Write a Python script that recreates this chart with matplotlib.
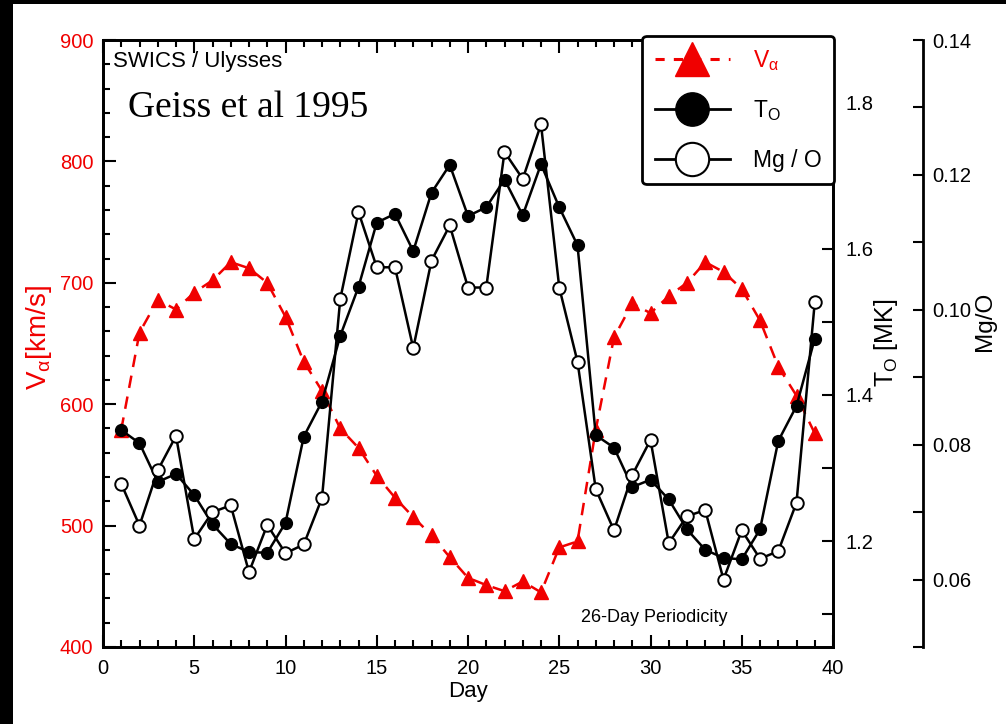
import numpy as np
import matplotlib
matplotlib.use("Agg")
import matplotlib.pyplot as plt
from matplotlib.lines import Line2D
from matplotlib.patches import Rectangle
from matplotlib.ticker import MultipleLocator, FormatStrFormatter

# ------------------------------------------------------------
# data read off the SWICS / Ulysses figure (Geiss et al 1995)
# ------------------------------------------------------------
days = list(range(1, 40))

v_alpha = [579, 659, 686, 678, 692, 702, 717, 712, 700, 672, 635, 611, 580,
           564, 541, 523, 507, 492, 474, 457, 451, 446, 454, 445, 482, 487,
           579, 655, 683, 675, 689, 700, 717, 709, 695, 669, 631, 607, 576]

t_oxygen = [1.352, 1.334, 1.281, 1.292, 1.263, 1.223, 1.196, 1.185, 1.184,
            1.225, 1.343, 1.391, 1.481, 1.548, 1.636, 1.648, 1.597, 1.677,
            1.715, 1.645, 1.657, 1.695, 1.646, 1.716, 1.657, 1.605, 1.345,
            1.328, 1.274, 1.284, 1.257, 1.216, 1.188, 1.177, 1.175, 1.216,
            1.337, 1.385, 1.477]

mg_o = [0.0742, 0.0680, 0.0762, 0.0813, 0.0660, 0.0700, 0.0710, 0.0611,
        0.0681, 0.0639, 0.0652, 0.0721, 0.1016, 0.1145, 0.1063, 0.1063,
        0.0943, 0.1073, 0.1125, 0.1033, 0.1033, 0.1234, 0.1194, 0.1275,
        0.1033, 0.0923, 0.0734, 0.0673, 0.0755, 0.0807, 0.0654, 0.0694,
        0.0703, 0.0600, 0.0673, 0.0631, 0.0642, 0.0714, 0.1011]

RED = "#f00000"
FONT = "Liberation Sans"
plt.rcParams["font.family"] = FONT
plt.rcParams["mathtext.fontset"] = "custom"
plt.rcParams["mathtext.rm"] = FONT
plt.rcParams["mathtext.it"] = FONT + ":italic"

# ------------------------------------------------------------
# figure / axes
# ------------------------------------------------------------
W, H = 1006, 724
fig = plt.figure(figsize=(W / 100, H / 100), dpi=100)
fig.patch.set_facecolor("white")

# scan border (black strips on the left and top)
fig.patches.append(Rectangle((0, 0), 13 / W, 1, transform=fig.transFigure,
                             facecolor="black", edgecolor="none", zorder=0))
fig.patches.append(Rectangle((0, 1 - 4 / H), 1, 4 / H, transform=fig.transFigure,
                             facecolor="black", edgecolor="none", zorder=0))

ax = fig.add_axes([103 / W, 77 / H, 730 / W, 607 / H])
ax_t = ax.twinx()
ax_m = ax.twinx()

# V alpha (left axis)
ax.plot(days, v_alpha, color=RED, linestyle=(0, (5, 3.5)), linewidth=1.8,
        marker="^", markersize=10.5, markerfacecolor=RED, markeredgecolor=RED)
ax.set_xlim(0, 40)
ax.set_ylim(400, 900)

# T_O (middle axis, on the frame)
ax_t.plot(days, t_oxygen, color="black", linewidth=1.8,
          marker="o", markersize=8.5, markerfacecolor="black", markeredgecolor="black")
ax_t.set_ylim(1.055, 1.886)

# Mg/O (outer right axis)
ax_m.plot(days, mg_o, color="black", linewidth=1.8,
          marker="o", markersize=9, markerfacecolor="white", markeredgecolor="black",
          markeredgewidth=1.4)
ax_m.set_ylim(0.05, 0.14)
ax_m.spines["right"].set_position(("outward", 90 * 0.72))
for s in ["left", "top", "bottom"]:
    ax_m.spines[s].set_visible(False)

# ------------------------------------------------------------
# spines + ticks
# ------------------------------------------------------------
for a in (ax, ax_t, ax_m):
    for s in a.spines.values():
        s.set_linewidth(2)

ax.xaxis.set_major_locator(MultipleLocator(5))
ax.xaxis.set_minor_locator(MultipleLocator(1))
ax.yaxis.set_major_locator(MultipleLocator(100))
ax.yaxis.set_minor_locator(MultipleLocator(20))
ax.tick_params(axis="x", which="both", direction="in", top=True, bottom=True,
               labelsize=14.5, pad=9, width=1.5)
ax.tick_params(axis="x", which="major", length=9)
ax.tick_params(axis="x", which="minor", length=5)
ax.tick_params(axis="y", which="both", direction="in", left=True, right=False,
               labelsize=14.5, pad=7, width=1.5, labelcolor=RED)
ax.tick_params(axis="y", which="major", length=9)
ax.tick_params(axis="y", which="minor", length=5)

ax_t.yaxis.set_major_locator(MultipleLocator(0.2))
ax_t.yaxis.set_minor_locator(MultipleLocator(0.1))
ax_t.yaxis.set_major_formatter(FormatStrFormatter("%.1f"))
ax_t.tick_params(axis="y", which="both", direction="in", length=8, width=1.5,
                 labelsize=14.5, pad=9)

ax_m.yaxis.set_major_locator(MultipleLocator(0.02))
ax_m.yaxis.set_minor_locator(MultipleLocator(0.01))
ax_m.yaxis.set_major_formatter(FormatStrFormatter("%.2f"))
ax_m.tick_params(axis="y", which="both", direction="in", length=7, width=1.5,
                 labelsize=14.5, pad=7)

# ------------------------------------------------------------
# labels / annotations
# ------------------------------------------------------------
ax.set_xlabel("Day", fontsize=16, labelpad=2)
fig.text(39 / W, 1 - 338 / H, r"V$_\mathregular{\alpha}$[km/s]", color=RED, fontsize=20,
         rotation=90, ha="center", va="center")
fig.text(886 / W, 1 - 343 / H, r"T$_\mathregular{O}$ [MK]", fontsize=18,
         rotation=90, ha="center", va="center")
fig.text(985 / W, 1 - 321 / H, "Mg/O", fontsize=17.5,
         rotation=90, ha="center", va="center")

ax.text(0.014, 0.965, "SWICS / Ulysses", transform=ax.transAxes,
        fontsize=16, ha="left", va="center")
ax.text(0.034, 0.888, "Geiss et al 1995", transform=ax.transAxes,
        fontsize=27, family="Liberation Serif", ha="left", va="center")
ax.text(0.755, 0.049, "26-Day Periodicity", transform=ax.transAxes,
        fontsize=13, ha="center", va="center")

# legend with big symbols
handles = [
    Line2D([], [], color=RED, linestyle=(0, (3, 3)), linewidth=2.2, marker="^",
           markersize=25, markerfacecolor=RED, markeredgecolor=RED),
    Line2D([], [], color="black", linewidth=2, marker="o", markersize=24,
           markerfacecolor="black", markeredgecolor="black"),
    Line2D([], [], color="black", linewidth=2, marker="o", markersize=24,
           markerfacecolor="white", markeredgecolor="black", markeredgewidth=1.5),
]
labels = [r"V$_\mathregular{\alpha}$", r"T$_\mathregular{O}$", "Mg / O"]
leg = ax_m.legend(handles, labels, loc="upper right", bbox_to_anchor=(1.002, 1.007),
                  borderaxespad=0, fontsize=16.5, handlelength=3.3, handletextpad=1.0,
                  labelspacing=1.1, fancybox=True, framealpha=1, edgecolor="black",
                  borderpad=0.55)
leg.get_frame().set_linewidth(2)
leg.get_texts()[0].set_color(RED)

fig.savefig("out.png", dpi=100)
